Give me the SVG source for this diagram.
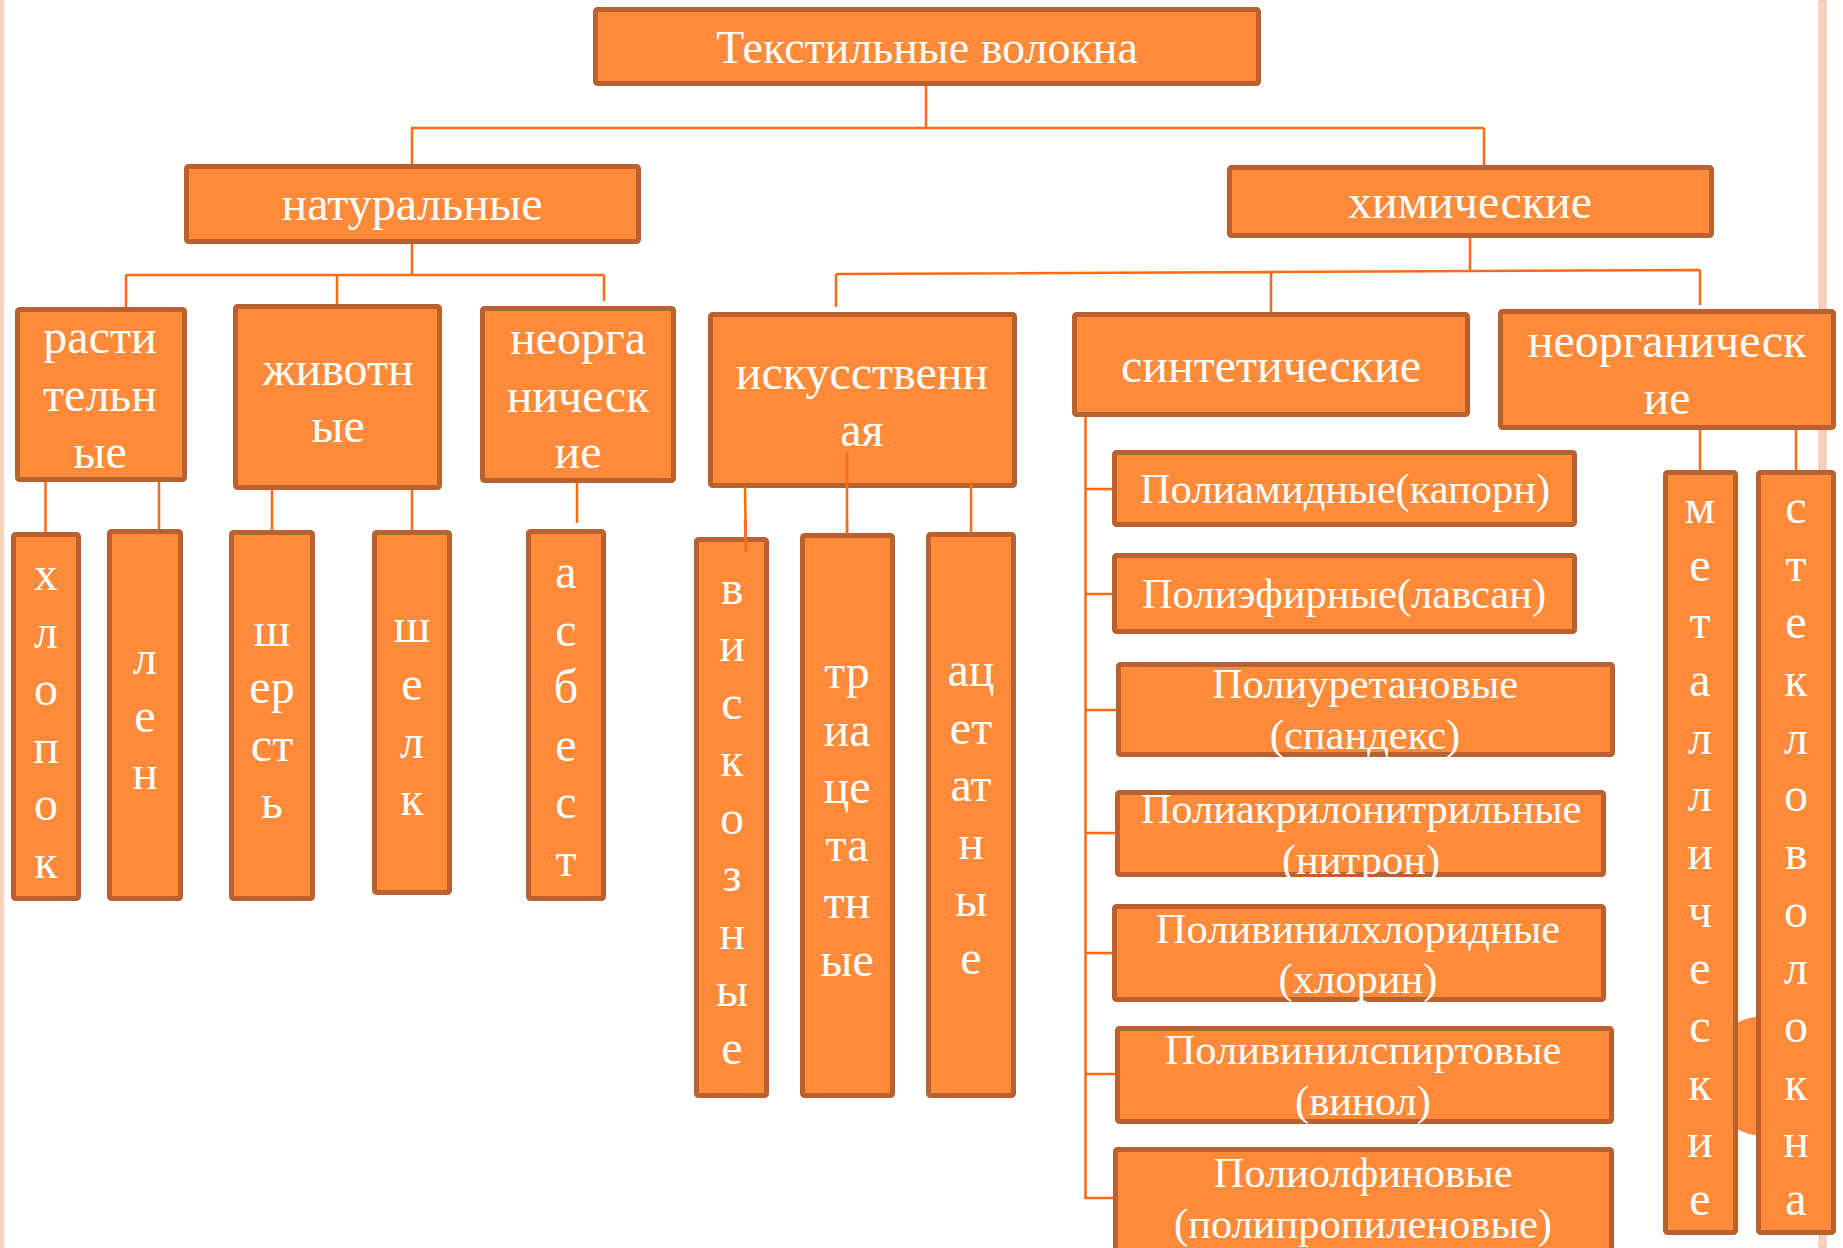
<svg xmlns="http://www.w3.org/2000/svg" width="1843" height="1248" viewBox="0 0 1843 1248">
<style>
.b{fill:#FF8A3A;stroke:#B9622F;stroke-width:5}
.c{stroke:#FF6A12;stroke-width:2.5;fill:none}
.t{font-family:"Liberation Serif","Times New Roman",serif;fill:#FFFFFF;text-anchor:middle;font-size:48px}
.h{font-size:46px}
.s{font-size:42.5px}
</style>
<rect x="0" y="0" width="1843" height="1248" fill="#FFFFFF"/>
<rect x="0" y="0" width="4" height="1248" fill="#FCCFBF"/>
<rect x="1819" y="0" width="7" height="1248" fill="#FCCFBF" stroke="#F5B8A3" stroke-width="1"/>
<circle cx="1765" cy="1076" r="60" fill="#FF8A3A"/>
<g id="connectors">
<path class="c" d="M926,86V128M411,128H1484M412,128V164M1484,128V165"/>
<path class="c" d="M412,244V275M126,275H604M126,275V307M337,275V304M604,275V301"/>
<path class="c" d="M1470,238V271M836,274L1700,270M836,274V307M1271,272V313M1700,270V305"/>
<path class="c" d="M45.5,482V533M159,482V529M272,490V530M412,490V530M577,483V523"/>
<path class="c" d="M1700,430V470M1796,430V472"/>
<path class="c" d="M1085.5,408V1198M1085.5,489H1113M1085.5,594H1113M1085.5,710H1117M1085.5,833H1116M1085.5,953H1113M1085.5,1074H1116M1084,1198H1114"/>
</g>
<g id="n-title"><rect class="b" x="595.5" y="9.5" width="663" height="74" rx="2"/><text class="t h" x="927" y="63">Текстильные волокна</text></g>
<g id="n-natural"><rect class="b" x="186.5" y="166.5" width="452" height="75" rx="2"/><text class="t" x="412" y="220">натуральные</text></g>
<g id="n-chemical"><rect class="b" x="1229.5" y="167.5" width="482" height="68" rx="2"/><text class="t" x="1470" y="218">химические</text></g>
<g id="n-plant"><rect class="b" x="17.5" y="309.5" width="167" height="170" rx="2"/><text class="t"><tspan x="100" y="353">расти</tspan><tspan x="100" y="411">тельн</tspan><tspan x="100" y="468">ые</tspan></text></g>
<g id="n-animal"><rect class="b" x="235.5" y="306.5" width="204" height="181" rx="2"/><text class="t"><tspan x="338" y="385">животн</tspan><tspan x="338" y="442">ые</tspan></text></g>
<g id="n-inorg-nat"><rect class="b" x="482.5" y="308.5" width="191" height="172" rx="2"/><text class="t"><tspan x="578" y="354">неорга</tspan><tspan x="578" y="412">ническ</tspan><tspan x="578" y="468">ие</tspan></text></g>
<g id="n-artificial"><rect class="b" x="710.5" y="314.5" width="304" height="171" rx="2"/><text class="t"><tspan x="862" y="389">искусственн</tspan><tspan x="862" y="446">ая</tspan></text></g>
<path class="c" d="M745,487L746,552M847,452V534M971,482V533"/>
<g id="n-synthetic"><rect class="b" x="1074.5" y="314.5" width="393" height="100" rx="2"/><text class="t" x="1271" y="382">синтетические</text></g>
<g id="n-inorg-chem"><rect class="b" x="1500.5" y="311.5" width="333" height="116" rx="2"/><text class="t"><tspan x="1667" y="357">неорганическ</tspan><tspan x="1667" y="414">ие</tspan></text></g>
<g id="n-cotton"><rect class="b" x="13.5" y="534.5" width="65" height="364" rx="2"/><text class="t"><tspan x="46" y="590">х</tspan><tspan x="46" y="647.6">л</tspan><tspan x="46" y="705.2">о</tspan><tspan x="46" y="762.8">п</tspan><tspan x="46" y="820.4">о</tspan><tspan x="46" y="878">к</tspan></text></g>
<g id="n-flax"><rect class="b" x="109.5" y="531.5" width="71" height="367" rx="2"/><text class="t"><tspan x="145" y="674">л</tspan><tspan x="145" y="731.6">е</tspan><tspan x="145" y="789.2">н</tspan></text></g>
<g id="n-wool"><rect class="b" x="231.5" y="532.5" width="81" height="366" rx="2"/><text class="t"><tspan x="272" y="645.5">ш</tspan><tspan x="272" y="703">ер</tspan><tspan x="272" y="760.5">ст</tspan><tspan x="272" y="818">ь</tspan></text></g>
<g id="n-silk"><rect class="b" x="374.5" y="532.5" width="75" height="360" rx="2"/><text class="t"><tspan x="412" y="642">ш</tspan><tspan x="412" y="700">е</tspan><tspan x="412" y="757.5">л</tspan><tspan x="412" y="815">к</tspan></text></g>
<g id="n-asbestos"><rect class="b" x="528.5" y="531.5" width="75" height="367" rx="2"/><text class="t"><tspan x="566" y="588">а</tspan><tspan x="566" y="645.5">с</tspan><tspan x="566" y="703">б</tspan><tspan x="566" y="760.5">е</tspan><tspan x="566" y="818">с</tspan><tspan x="566" y="875.5">т</tspan></text></g>
<g id="n-viscose"><rect class="b" x="696.5" y="539.5" width="70" height="556" rx="2"/><text class="t"><tspan x="732" y="603.5">в</tspan><tspan x="732" y="661">и</tspan><tspan x="732" y="718.5">с</tspan><tspan x="732" y="776">к</tspan><tspan x="732" y="833.5">о</tspan><tspan x="732" y="891">з</tspan><tspan x="732" y="948.5">н</tspan><tspan x="732" y="1006">ы</tspan><tspan x="732" y="1063.5">е</tspan></text></g>
<g id="n-triacetate"><rect class="b" x="802.5" y="535.5" width="90" height="560" rx="2"/><text class="t"><tspan x="847" y="688">тр</tspan><tspan x="847" y="745.5">иа</tspan><tspan x="847" y="803">це</tspan><tspan x="847" y="860.5">та</tspan><tspan x="847" y="918">тн</tspan><tspan x="847" y="975.5">ые</tspan></text></g>
<g id="n-acetate"><rect class="b" x="928.5" y="534.5" width="85" height="561" rx="2"/><text class="t"><tspan x="971" y="686">ац</tspan><tspan x="971" y="743.5">ет</tspan><tspan x="971" y="801">ат</tspan><tspan x="971" y="858.5">н</tspan><tspan x="971" y="916">ы</tspan><tspan x="971" y="973.5">е</tspan></text></g>
<path class="c" d="M745,520L746,552M847,520V534"/>
<g id="n-polyamide"><rect class="b" x="1114.5" y="452.5" width="460" height="72" rx="2"/><text class="t s" x="1345" y="503">Полиамидные(капорн)</text></g>
<g id="n-polyester"><rect class="b" x="1114.5" y="555.5" width="460" height="76" rx="2"/><text class="t s" x="1344" y="608">Полиэфирные(лавсан)</text></g>
<g id="n-polyurethane"><rect class="b" x="1118.5" y="664.5" width="494" height="90" rx="2"/><text class="t s"><tspan x="1365" y="698">Полиуретановые</tspan><tspan x="1365" y="749">(спандекс)</tspan></text></g>
<g id="n-polyacryl"><rect class="b" x="1117.5" y="792.5" width="486" height="82" rx="2"/><text class="t s"><tspan x="1361" y="823">Полиакрилонитрильные</tspan><tspan x="1361" y="874">(нитрон)</tspan></text></g>
<g id="n-pvc"><rect class="b" x="1114.5" y="906.5" width="489" height="93" rx="2"/><text class="t s"><tspan x="1358" y="943">Поливинилхлоридные</tspan><tspan x="1358" y="993">(хлорин)</tspan></text></g>
<g id="n-pva"><rect class="b" x="1117.5" y="1028.5" width="494" height="93" rx="2"/><text class="t s"><tspan x="1363" y="1064">Поливинилспиртовые</tspan><tspan x="1363" y="1115">(винол)</tspan></text></g>
<g id="n-polyolefin"><rect class="b" x="1115.5" y="1149.5" width="496" height="120" rx="2"/><text class="t s"><tspan x="1363" y="1187">Полиолфиновые</tspan><tspan x="1363" y="1238">(полипропиленовые)</tspan></text></g>
<g id="n-metal"><rect class="b" x="1665.5" y="472.5" width="70" height="760" rx="2"/><text class="t"><tspan x="1700" y="523">м</tspan><tspan x="1700" y="580.7">е</tspan><tspan x="1700" y="638.3">т</tspan><tspan x="1700" y="696">а</tspan><tspan x="1700" y="753.7">л</tspan><tspan x="1700" y="811.3">л</tspan><tspan x="1700" y="869">и</tspan><tspan x="1700" y="926.7">ч</tspan><tspan x="1700" y="984.3">е</tspan><tspan x="1700" y="1042">с</tspan><tspan x="1700" y="1099.7">к</tspan><tspan x="1700" y="1157.3">и</tspan><tspan x="1700" y="1215">е</tspan></text></g>
<g id="n-glass"><rect class="b" x="1758.5" y="472.5" width="75" height="760" rx="2"/><text class="t"><tspan x="1796" y="523">с</tspan><tspan x="1796" y="580.7">т</tspan><tspan x="1796" y="638.3">е</tspan><tspan x="1796" y="696">к</tspan><tspan x="1796" y="753.7">л</tspan><tspan x="1796" y="811.3">о</tspan><tspan x="1796" y="869">в</tspan><tspan x="1796" y="926.7">о</tspan><tspan x="1796" y="984.3">л</tspan><tspan x="1796" y="1042">о</tspan><tspan x="1796" y="1099.7">к</tspan><tspan x="1796" y="1157.3">н</tspan><tspan x="1796" y="1215">а</tspan></text></g>
</svg>
